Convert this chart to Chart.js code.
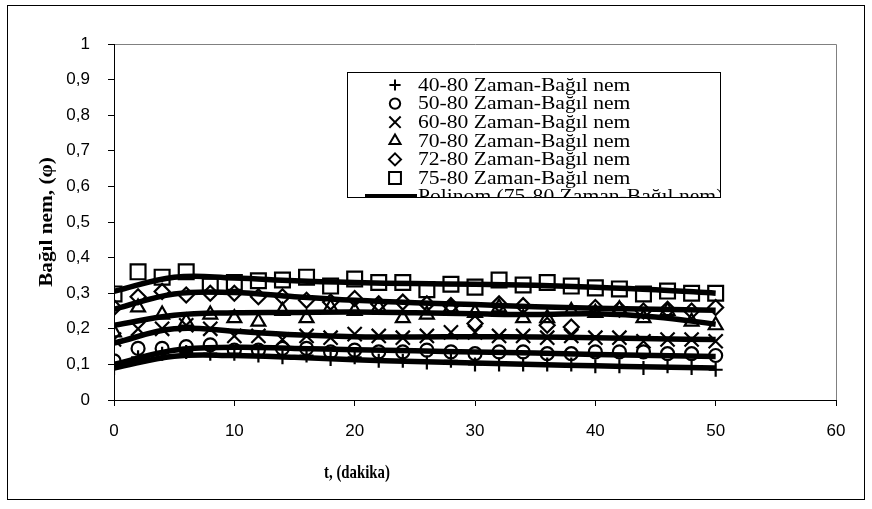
<!DOCTYPE html>
<html>
<head>
<meta charset="utf-8">
<script src="https://cdn.jsdelivr.net/npm/chart.js@4.4.1/dist/chart.umd.min.js"></script>
<style>
  body { margin: 0; background: #fff; }
</style>
</head>
<body>
<canvas id="nemChart" width="872" height="509"></canvas>
<script>
// Ölçüm zamanları (dakika)
const zaman = [0, 2, 4, 6, 8, 10, 12, 14, 16, 18, 20, 22, 24, 26, 28, 30, 32, 34, 36, 38, 40, 42, 44, 46, 48, 50];

// Bağıl nem ölçümleri
const nem4080 = [0.09, 0.12, 0.13, 0.135, 0.13, 0.13, 0.125, 0.12, 0.125, 0.115, 0.12, 0.11, 0.11, 0.105, 0.11, 0.10, 0.10, 0.10, 0.10, 0.10, 0.095, 0.095, 0.09, 0.095, 0.09, 0.085];
const nem5080 = [0.11, 0.145, 0.145, 0.15, 0.155, 0.14, 0.14, 0.145, 0.145, 0.135, 0.14, 0.135, 0.135, 0.14, 0.135, 0.13, 0.135, 0.135, 0.13, 0.13, 0.135, 0.135, 0.135, 0.13, 0.13, 0.125];
const nem6080 = [0.17, 0.20, 0.20, 0.21, 0.20, 0.18, 0.18, 0.17, 0.18, 0.175, 0.185, 0.18, 0.175, 0.18, 0.19, 0.19, 0.18, 0.18, 0.175, 0.18, 0.175, 0.175, 0.165, 0.17, 0.17, 0.165];
const nem7080 = [0.19, 0.26, 0.24, 0.22, 0.24, 0.23, 0.22, 0.25, 0.23, 0.26, 0.25, 0.26, 0.23, 0.24, 0.26, 0.245, 0.26, 0.23, 0.23, 0.25, 0.245, 0.255, 0.23, 0.25, 0.22, 0.21];
const nem7280 = [0.26, 0.29, 0.305, 0.295, 0.30, 0.30, 0.29, 0.29, 0.28, 0.275, 0.285, 0.27, 0.275, 0.27, 0.265, 0.215, 0.27, 0.265, 0.21, 0.205, 0.26, 0.255, 0.25, 0.255, 0.25, 0.26];
const nem7580 = [0.298, 0.36, 0.345, 0.36, 0.32, 0.33, 0.335, 0.337, 0.345, 0.32, 0.34, 0.33, 0.33, 0.31, 0.325, 0.317, 0.337, 0.323, 0.33, 0.32, 0.315, 0.312, 0.298, 0.306, 0.30, 0.30];

// Polinom eğilim çizgileri
const zamanPolinom = [0, 5, 10, 15, 20, 25, 30, 35, 40, 45, 50];
const pol4080 = [0.09, 0.123, 0.125, 0.12, 0.113, 0.108, 0.104, 0.10, 0.096, 0.093, 0.09];
const pol5080 = [0.10, 0.14, 0.148, 0.145, 0.141, 0.138, 0.135, 0.132, 0.128, 0.125, 0.122];
const pol6080 = [0.16, 0.20, 0.193, 0.183, 0.178, 0.177, 0.178, 0.177, 0.175, 0.172, 0.17];
const pol7080 = [0.21, 0.238, 0.245, 0.246, 0.247, 0.245, 0.242, 0.24, 0.242, 0.233, 0.213];
const pol7280 = [0.255, 0.298, 0.302, 0.29, 0.28, 0.273, 0.268, 0.262, 0.258, 0.255, 0.252];
const pol7580 = [0.305, 0.345, 0.343, 0.335, 0.33, 0.327, 0.325, 0.322, 0.317, 0.31, 0.30];

const xTikler = [0, 10, 20, 30, 40, 50, 60];

function noktalar(xs, ys) {
    return xs.map((x, i) => ({ x: x, y: ys[i] }));
}

function seri(etiket, degerler, stil, r) {
    return {
        label: etiket,
        data: noktalar(zaman, degerler),
        showLine: false,
        pointStyle: stil,
        pointRadius: r,
        pointBorderWidth: 2.2,
        pointBorderColor: '#000',
        pointBackgroundColor: 'rgba(0,0,0,0)',
        order: 1
    };
}

function polinom(etiket, degerler) {
    return {
        label: etiket,
        data: noktalar(zamanPolinom, degerler),
        showLine: true,
        borderColor: '#000',
        borderWidth: 5.5,
        pointRadius: 0,
        tension: 0.4,
        fill: false,
        order: 0
    };
}

const veriSetleri = [
    seri('40-80 Zaman-Bağıl nem', nem4080, 'cross', 7),
    seri('50-80 Zaman-Bağıl nem', nem5080, 'circle', 6.5),
    seri('60-80 Zaman-Bağıl nem', nem6080, 'crossRot', 10),
    seri('70-80 Zaman-Bağıl nem', nem7080, 'triangle', 8),
    seri('72-80 Zaman-Bağıl nem', nem7280, 'rectRot', 7.5),
    seri('75-80 Zaman-Bağıl nem', nem7580, 'rect', 10.5),
    polinom('Polinom (75-80 Zaman-Bağıl nem)', pol7580),
    polinom('Polinom (72-80 Zaman-Bağıl nem)', pol7280),
    polinom('Polinom (70-80 Zaman-Bağıl nem)', pol7080),
    polinom('Polinom (60-80 Zaman-Bağıl nem)', pol6080),
    polinom('Polinom (50-80 Zaman-Bağıl nem)', pol5080),
    polinom('Polinom (40-80 Zaman-Bağıl nem)', pol4080)
];

// Çerçeve, eksen başlıkları ve kırpılmış gösterge kutusu
const cizimEklentisi = {
    id: 'cizimEklentisi',
    beforeDraw(chart) {
        const ctx = chart.ctx;
        const a = chart.chartArea;
        ctx.save();
        ctx.fillStyle = '#fff';
        ctx.fillRect(0, 0, chart.width, chart.height);
        ctx.strokeStyle = '#000';
        ctx.lineWidth = 1;
        ctx.strokeRect(7.5, 5.5, 857, 494);
        ctx.strokeStyle = '#808080';
        ctx.beginPath();
        ctx.moveTo(a.left, Math.round(a.top) + 0.5);
        ctx.lineTo(Math.round(a.right) + 0.5, Math.round(a.top) + 0.5);
        ctx.lineTo(Math.round(a.right) + 0.5, a.bottom);
        ctx.stroke();
        ctx.restore();
    },
    afterDraw(chart) {
        const ctx = chart.ctx;

        // Y ekseni başlığı
        ctx.save();
        ctx.translate(47, 222);
        ctx.rotate(-Math.PI / 2);
        ctx.scale(1.12, 1);
        ctx.font = 'bold 19px "Liberation Serif", "Times New Roman", serif';
        ctx.fillStyle = '#000';
        ctx.textAlign = 'center';
        ctx.textBaseline = 'middle';
        ctx.fillText('Bağıl nem, (φ)', 0, 0);
        ctx.restore();

        // X ekseni başlığı
        ctx.save();
        ctx.translate(357, 473);
        ctx.scale(0.78, 1);
        ctx.font = 'bold 19px "Liberation Serif", "Times New Roman", serif';
        ctx.fillStyle = '#000';
        ctx.textAlign = 'center';
        ctx.textBaseline = 'middle';
        ctx.fillText('t, (dakika)', 0, 0);
        ctx.restore();

        // Gösterge
        const kx = 347, ky = 72, kw = 373, kh = 125;
        ctx.save();
        ctx.beginPath();
        ctx.rect(kx, ky, kw, kh);
        ctx.clip();
        ctx.fillStyle = '#fff';
        ctx.fillRect(kx, ky, kw, kh);
        chart.data.datasets.forEach((ds, i) => {
            const y = 85 + i * 18.6;
            ctx.strokeStyle = '#000';
            ctx.fillStyle = 'rgba(0,0,0,0)';
            if (ds.showLine) {
                ctx.lineWidth = 5;
                ctx.beginPath();
                ctx.moveTo(365, y);
                ctx.lineTo(417, y);
                ctx.stroke();
            } else if (Chart.helpers && Chart.helpers.drawPoint) {
                ctx.lineWidth = 2;
                Chart.helpers.drawPoint(ctx, {
                    pointStyle: ds.pointStyle,
                    radius: ds.pointRadius * 0.8,
                    rotation: 0,
                    borderWidth: 2
                }, 395, y);
            }
            ctx.save();
            ctx.translate(418, y);
            ctx.scale(1.2, 1);
            ctx.font = '18px "Liberation Serif", "Times New Roman", serif';
            ctx.fillStyle = '#000';
            ctx.textAlign = 'left';
            ctx.textBaseline = 'middle';
            ctx.fillText(ds.label, 0, 1);
            ctx.restore();
        });
        ctx.restore();
        ctx.save();
        ctx.strokeStyle = '#000';
        ctx.lineWidth = 1;
        ctx.strokeRect(kx + 0.5, ky + 0.5, kw, kh);
        ctx.restore();
    }
};

const ctx = document.getElementById('nemChart').getContext('2d');
const nemChart = new Chart(ctx, {
    type: 'scatter',
    data: { datasets: veriSetleri },
    options: {
        responsive: false,
        animation: false,
        layout: { padding: { left: 0, top: 44, right: 36, bottom: 0 } },
        plugins: {
            legend: { display: false },
            tooltip: { enabled: false }
        },
        scales: {
            x: {
                type: 'linear',
                min: 0,
                max: 60,
                afterFit: (scale) => { scale.height = 109; },
                afterBuildTicks: (scale) => { scale.ticks = xTikler.map(v => ({ value: v })); },
                grid: { drawOnChartArea: false, drawTicks: true, tickLength: 6, color: '#000' },
                border: { display: true, color: '#000', width: 1 },
                ticks: {
                    color: '#000',
                    padding: 15,
                    font: { family: '"Liberation Sans", Arial, sans-serif', size: 17 }
                }
            },
            y: {
                min: 0,
                max: 1,
                afterFit: (scale) => { scale.width = 114; },
                grid: { drawOnChartArea: false, drawTicks: true, tickLength: 6, color: '#000' },
                border: { display: true, color: '#000', width: 1 },
                ticks: {
                    stepSize: 0.1,
                    color: '#000',
                    padding: 18,
                    font: { family: '"Liberation Sans", Arial, sans-serif', size: 17 },
                    callback: (v) => String(+v.toFixed(1)).replace('.', ',')
                }
            }
        }
    },
    plugins: [cizimEklentisi]
});
</script>
</body>
</html>
